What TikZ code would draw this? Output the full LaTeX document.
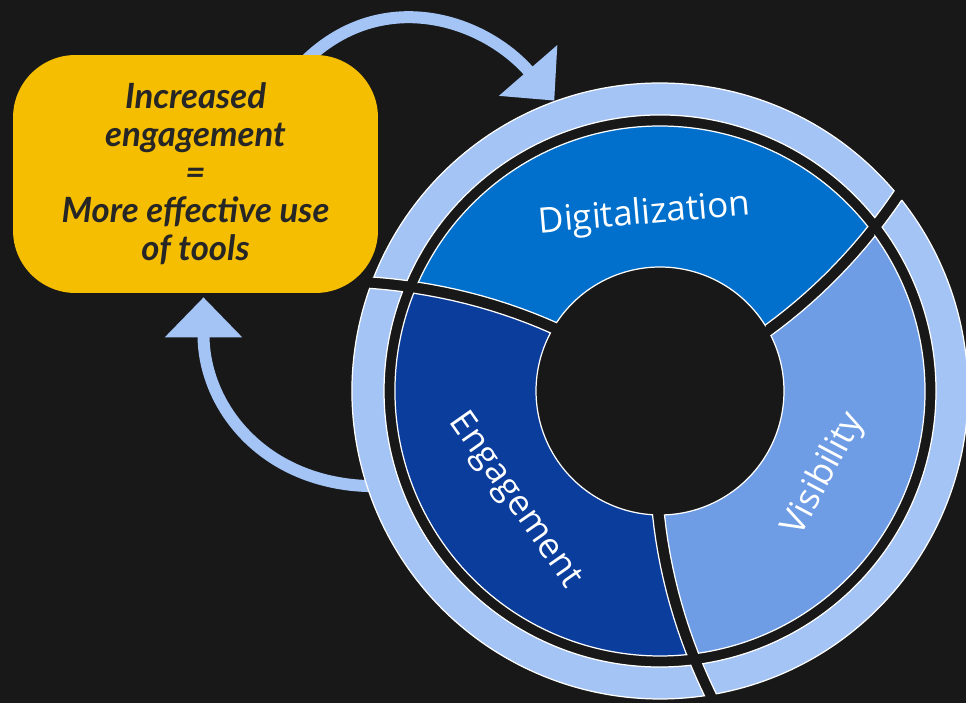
\documentclass[tikz,border=0pt]{standalone}
\usepackage{fontspec}
\setmainfont{Open Sans}
\newfontfamily\boxfont{Lato}
\usetikzlibrary{arrows.meta,calc}
\pgfdeclarelayer{bg}
\pgfsetlayers{bg,main}

\definecolor{bgdark}{RGB}{24,24,24}
\definecolor{ringlight}{RGB}{164,196,246}
\definecolor{digiblue}{RGB}{0,112,204}
\definecolor{engblue}{RGB}{10,61,156}
\definecolor{visblue}{RGB}{110,157,230}
\definecolor{boxyellow}{RGB}{245,190,0}
\definecolor{boxtext}{RGB}{38,38,38}

\tikzset{%
  >={Triangle[width=1.5cm,length=0.8cm]},
  % Specifications for style of nodes:
    ringpiece/.style = {draw=white, line width=0.7pt},
    segLabel/.style = {text=white, font=\fontsize{20}{24}\selectfont},
    feedbackBox/.style = {rectangle, rounded corners=1.25cm, fill=boxyellow,
                          minimum width=7.3cm, minimum height=4.76cm,
                          align=center, text=boxtext,
                          font=\boxfont\bfseries\itshape\fontsize{19.8}{21.6}\selectfont},
    loopArrow/.style = {->, draw=ringlight, line width=0.24cm},
}

% one piece of a ring between two gaps (gaps follow a slight spiral)
% #1 gap from, #2 gap to, #3 inner radius, #4 outer radius, #5 fill
\newcommand{\ringPiece}[5]{%
  \pgfmathsetmacro{\sa}{#1+0.055*(#4-124)+343.8/#4}%
  \pgfmathsetmacro{\ea}{#2+0.055*(#4-124)-343.8/#4}%
  \pgfmathsetmacro{\sb}{#1+0.055*(#3-124)+343.8/#3}%
  \pgfmathsetmacro{\eb}{#2+0.055*(#3-124)-343.8/#3}%
  \filldraw[ringpiece, fill=#5]
    plot[domain=#3:#4, samples=12] ({#1+0.055*(\x-124)+343.8/\x}:{\x})
    arc[start angle=\sa, end angle=\ea, radius={#4*0.02cm}]
    -- plot[domain=#4:#3, samples=12] ({#2+0.055*(\x-124)-343.8/\x}:{\x})
    arc[start angle=\eb, end angle=\sb, radius={#3*0.02cm}]
    -- cycle;
}

\begin{document}
\begin{tikzpicture}[x=0.02cm, y=0.02cm]
  \useasboundingbox (0,0) rectangle (966,703);
  \begin{pgfonlayer}{bg}
    \fill[bgdark] (0,0) rectangle (966,703);
  \end{pgfonlayer}

  % Specification of the cycle ring
  \coordinate (hub) at (660,312);
  \begin{scope}[shift={(660,312)}]
    \ringPiece{29.3}{149.3}{124}{265}{digiblue}
    \ringPiece{149.3}{269.3}{124}{265}{engblue}
    \ringPiece{269.3}{389.3}{124}{265}{visblue}
    \ringPiece{29.3}{149.3}{276}{308}{ringlight}
    \ringPiece{149.3}{269.3}{276}{308}{ringlight}
    \ringPiece{269.3}{389.3}{276}{308}{ringlight}
  \end{scope}

  \node (digi) [segLabel, rotate=5]   at ($(hub)+(95:177)$)  {Digitalization};
  \node (eng)  [segLabel, rotate=-55] at ($(hub)+(217:182)$) {Engagement};
  \node (vis)  [segLabel, rotate=62]  at ($(hub)+(-27:184)$) {Visibility};

  \node (gain) [feedbackBox] at (195.5,529)
               {Increased\\
                engagement\\
                =\\
                More effective use\\
                of tools};

  % arrows between box and ring
  \coordinate (ringTop)  at ($(hub)+(110:309)$);
  \coordinate (ringLeft) at ($(hub)+(198.5:300)$);
  \begin{pgfonlayer}{bg}
    \draw[loopArrow] ($(gain.north)+(108,-8)$) to[out=45, in=131, looseness=1.1] (ringTop);
    \draw[loopArrow] (ringLeft) to[out=180, in=-90, looseness=1.1] ($(gain.south)+(8,-4)$);
  \end{pgfonlayer}
\end{tikzpicture}
\end{document}
